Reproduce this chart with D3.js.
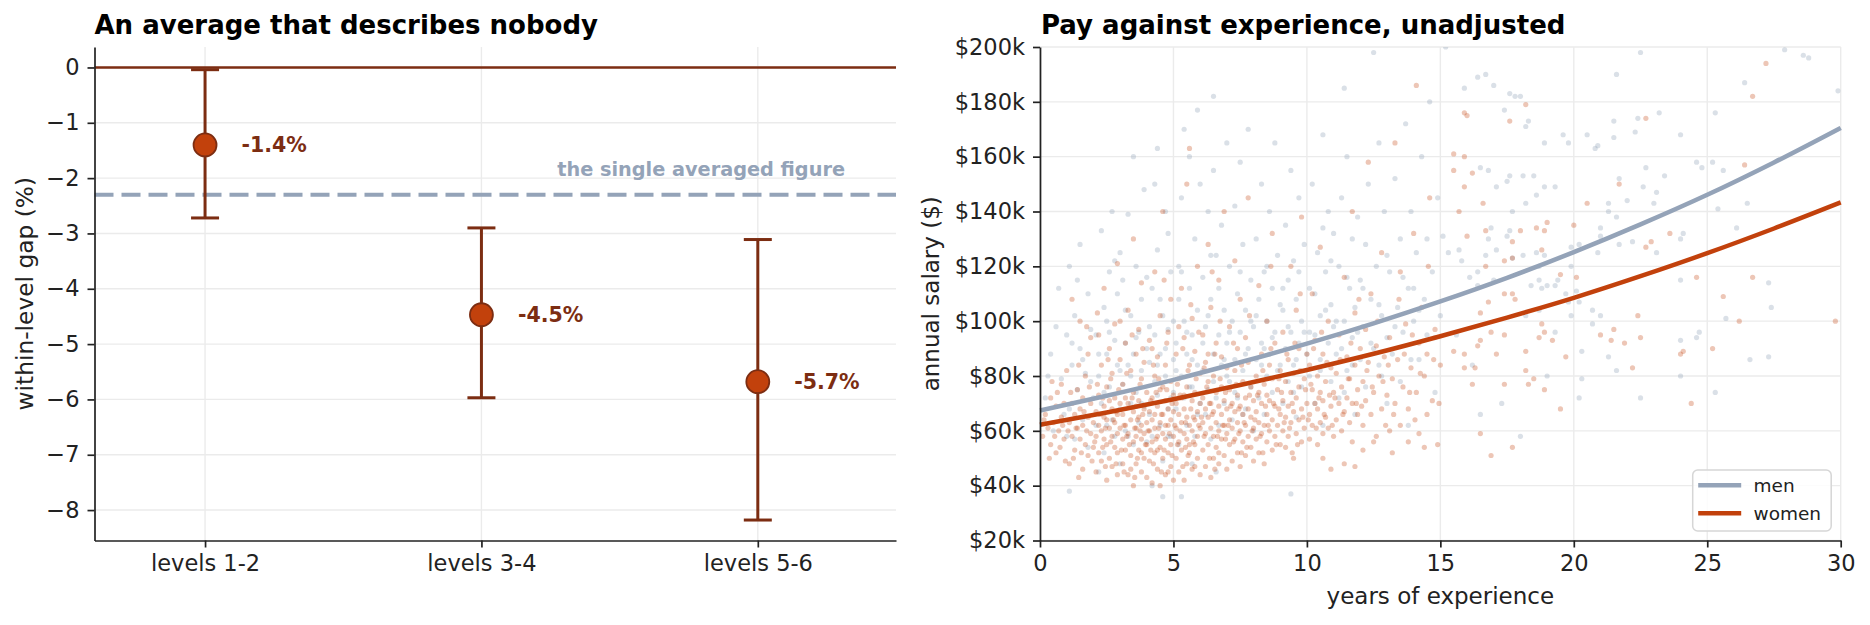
<!DOCTYPE html>
<html>
<head>
<meta charset="utf-8">
<script src="https://cdn.jsdelivr.net/npm/d3@7"></script>
<style>
  body { margin: 0; background: #fff; }
  svg { display: block; font-family: "DejaVu Sans", sans-serif; }
</style>
</head>
<body>
<svg id="chart" width="1870" height="625"></svg>
<script>
// ---- left panel: within-level gap ----
const levels = ["levels 1-2", "levels 3-4", "levels 5-6"];
const gapMid = [-1.4, -4.47, -5.68];
const gapLow = [-2.72, -5.97, -8.18];
const gapHigh = [-0.04, -2.90, -3.11];
const gapText = ["-1.4%", "-4.5%", "-5.7%"];
const averagedGap = -2.3;
const gapTicks = [0, -1, -2, -3, -4, -5, -6, -7, -8];

// ---- right panel: pay vs experience ($k) ----
const expGrid = [0, 2.5, 5, 7.5, 10, 12.5, 15, 17.5, 20, 22.5, 25, 27.5, 30];
const menFit = [67.4, 72.8, 78.6, 85.0, 91.8, 99.2, 107.2, 115.8, 125.2, 135.3, 146.1, 157.9, 170.5];
const womenFit = [62.2, 66.7, 71.5, 76.7, 82.2, 88.1, 94.5, 101.3, 108.5, 116.4, 124.8, 133.8, 143.3];
const salaryTicks = [20, 40, 60, 80, 100, 120, 140, 160, 180, 200];
const expTicks = [0, 5, 10, 15, 20, 25, 30];

const menPts = [
  [0.2,72],[0.4,88],[0.5,60],[0.7,112],[0.8,79],[1.0,95],[1.1,38],
  [1.1,68],[1.1,120],[1.2,84],[1.3,57],[1.3,102],[1.4,75],[1.5,90],[1.5,128],[1.6,64],[1.7,81],[1.8,110],[1.8,54],[1.9,97],[2.0,72],
  [2.1,62],[2.1,95],[2.2,80],[2.3,133],[2.3,70],[2.4,105],[2.4,52],[2.5,88],[2.6,76],[2.6,118],[2.7,64],[2.7,140],[2.8,93],[2.8,58],[2.9,84],[2.9,110],[3.0,68],[3.0,125],[2.2,45],[2.5,100],
  [3.1,77],[3.1,115],[3.2,60],[3.2,92],[3.3,84],[3.3,139],[3.4,70],[3.4,102],[3.5,55],[3.5,88],[3.6,120],[3.6,74],[3.7,96],[3.7,63],[3.8,108],[3.8,82],[3.9,148],[3.9,69],[4.0,90],[4.0,56],[3.5,160],[3.0,48],
  [4.1,85],[4.1,66],[4.2,112],[4.2,58],[4.3,95],[4.3,150],[4.4,73],[4.4,126],[4.5,62],[4.5,88],[4.6,102],[4.6,49],[4.7,80],[4.7,140],[4.8,68],[4.8,97],[4.9,118],[4.9,58],[5.0,86],[5.0,74],[4.4,163],[4.8,132],[4.2,40],[4.6,36],
  [5.1,92],[5.1,68],[5.2,120],[5.2,55],[5.3,80],[5.3,145],[5.4,100],[5.4,72],[5.5,62],[5.5,88],[5.6,112],[5.6,160],[5.7,76],[5.7,95],[5.8,58],[5.8,130],[5.9,84],[5.9,104],[6.0,70],[6.0,150],[5.4,170],[5.9,177],[5.2,108],[5.7,48],[5.3,36],
  [6.1,82],[6.1,116],[6.2,66],[6.2,98],[6.3,140],[6.3,75],[6.4,108],[6.4,57],[6.5,88],[6.5,155],[6.6,72],[6.6,124],[6.7,95],[6.7,62],[6.8,135],[6.8,84],[6.9,104],[6.9,70],[7.0,92],[7.0,165],[6.5,182],[6.6,45],
  [7.1,78],[7.1,120],[7.2,100],[7.2,64],[7.3,142],[7.3,86],[7.4,110],[7.4,72],[7.5,96],[7.5,158],[7.6,82],[7.6,128],[7.7,68],[7.7,104],[7.8,90],[7.8,170],[7.9,115],[7.9,76],[8.0,98],[8.0,60],
  [8.1,86],[8.1,130],[8.2,72],[8.2,108],[8.3,150],[8.3,92],[8.4,66],[8.4,118],[8.5,100],[8.5,80],[8.6,140],[8.6,88],[8.7,112],[8.7,74],[8.8,96],[8.8,165],[8.9,124],[9.0,84],
  [9.1,104],[9.1,70],[9.2,135],[9.2,90],[9.3,78],[9.3,115],[9.4,155],[9.4,96],[9.5,84],[9.5,122],[9.6,65],[9.6,108],[9.7,145],[9.7,92],[9.8,100],[9.8,76],[9.9,128],[10.0,88],[9.4,37],
  [10.1,112],[10.1,80],[10.2,150],[10.3,95],[10.3,70],[10.4,125],[10.5,102],[10.5,86],[10.6,168],[10.6,62],[10.7,118],[10.8,92],[10.8,140],[10.9,78],[10.9,106],[11.0,132],[11.0,98],
  [11.1,88],[11.2,120],[11.2,72],[11.3,145],[11.4,100],[11.5,82],[11.5,160],[11.6,112],[11.7,94],[11.7,130],[11.8,66],[11.8,105],[11.9,138],[12.0,86],[12.0,115],[11.4,185],
  [12.1,98],[12.2,128],[12.2,76],[12.3,150],[12.4,108],[12.5,90],[12.5,198],[12.6,120],[12.7,84],[12.7,165],[12.8,102],[12.9,140],[13.0,94],[13.0,70],
  [13.1,118],[13.2,88],[13.3,152],[13.4,105],[13.5,130],[13.5,78],[13.6,96],[13.7,172],[13.8,112],[13.8,62],[13.9,140],[14.0,100],
  [14.1,125],[14.2,86],[14.3,160],[14.4,108],[14.5,95],[14.6,180],[14.7,118],[14.8,74],[14.9,145],[15.0,102],
  [0.3,80],[0.6,98],[0.9,66],[1.2,92],[1.4,115],[1.6,86],[1.9,78],[1.0,58],
  [2.2,88],[2.4,74],[2.6,96],[2.8,122],[3.0,82],[3.2,104],[3.4,80],[3.6,94],[3.8,70],[4.0,116],[2.5,62],[3.3,58],
  [4.1,98],[4.3,78],[4.5,108],[4.7,90],[4.9,72],[5.1,82],[5.3,118],[5.5,96],[5.7,86],[5.9,66],[4.4,84],[5.0,100],[5.6,76],[4.8,58],
  [6.1,92],[6.3,102],[6.5,78],[6.7,112],[6.9,86],[7.1,96],[7.3,74],[7.5,118],[7.7,88],[7.9,100],[6.4,124],[7.0,80],[7.6,66],
  [8.1,102],[8.3,84],[8.5,120],[8.7,94],[8.9,82],[9.1,112],[9.3,98],[9.5,74],[9.7,118],[9.9,96],[8.4,90],[9.0,106],[9.6,86],
  [10.1,96],[10.3,110],[10.5,82],[10.7,104],[10.9,122],[11.1,100],[11.3,90],[11.5,116],[11.7,84],[11.9,96],[10.6,134],[11.4,74],
  [12.1,112],[12.4,92],[12.7,106],[13.0,124],[13.3,98],[13.6,116],[13.9,86],[14.2,104],[14.5,130],[14.8,94],[12.8,80],[14.0,112],
  [15.2,200],[16.7,190],[16.4,189],[17.0,186],[15.9,185],[17.6,183],[17.8,182],[18.0,182],[17.4,177],[18.3,173],[18.2,171],[18.9,165],[19.6,168],[19.8,165],
  [18.5,153],[18.9,149],[19.3,149],[18.6,146],[18.2,143],[17.7,140],[17.5,151],[17.1,149],[17.6,153],[18.1,153],[16.8,155],[16.5,156],[17.5,131],[17.6,133],
  [16.8,130],[16.9,134],[17.1,126],[17.7,123],[16.7,124],[16.4,118],[17.0,115],[16.4,113],[16.1,116],[15.8,122],[15.3,125],[15.7,126],[15.1,131],[19.9,127],
  [19.9,120],[19.3,113],[19.4,115],[19.0,113],[18.4,113],[18.7,115],[18.8,112],[18.7,104],[18.2,102],[18.7,120],[18.9,124],[18.6,125],[18.1,124],[19.3,96],
  [19.9,102],[19.8,107],[19.7,110],[15.6,95],[16.2,84],[17.3,70],[18.0,58],[16.5,66],[19.0,80],
  [21.6,190],[22.5,198],[27.9,199],[28.6,197],[28.8,196],[26.4,187],[29.9,184],[25.3,176],[23.2,176],[22.4,174],[21.5,173],[22.3,169],[24.0,168],[21.5,167],
  [20.5,168],[20.9,164],[20.8,163],[22.7,156],[24.6,158],[24.8,156],[25.6,155],[25.2,158],[23.4,153],[23.1,147],[22.6,149],[21.7,152],[22.0,144],[21.3,143],
  [21.3,140],[21.6,138],[23.0,143],[26.5,143],[25.4,141],[26.1,134],[24.0,130],[24.1,132],[21.0,134],[21.0,131],[21.7,128],[20.2,128],[20.9,125],[23.1,125],
  [22.2,129],[24.0,115],[27.4,105],[27.3,114],[25.7,101],[24.7,96],[24.0,93],[24.6,94],[26.6,86],[27.3,87],[24.0,80],[25.3,74],[22.5,72],[21.6,82],
  [21.3,87],[20.3,79],[20.2,72],[20.7,99],[21.0,102],[20.7,104],[20.2,107],[20.1,111],[20.3,89]
];

const womenPts = [
  [0.1,58],[0.2,66],[0.3,61],[0.4,72],[0.4,55],[0.5,63],[0.6,69],[0.6,52],[0.7,60],[0.8,77],[0.8,65],[0.9,57],[0.9,70],[1.0,82],
  [1.1,48],[1.1,63],[1.2,70],[1.2,58],[1.2,108],[1.3,66],[1.3,53],[1.4,75],[1.4,61],[1.5,100],[1.5,57],[1.5,68],[1.6,46],[1.6,72],[1.6,62],[1.7,55],[1.7,80],[1.8,65],[1.8,51],[1.8,88],[1.9,59],[1.9,70],[1.9,94],[2.0,63],[2.0,54],
  [2.1,45],[2.1,67],[2.1,58],[2.2,73],[2.2,62],[2.2,52],[2.3,84],[2.3,60],[2.3,49],[2.4,69],[2.4,57],[2.4,112],[2.5,64],[2.5,42],[2.5,76],[2.5,55],[2.6,61],[2.6,90],[2.6,50],[2.7,68],[2.7,58],[2.7,47],[2.7,81],[2.8,63],[2.8,54],[2.8,72],[2.8,99],[2.9,59],[2.9,66],[2.9,44],[2.9,52],[3.0,70],[3.0,61],[3.0,86],[2.4,65],[2.6,71],[2.2,95],[2.9,121],
  [3.1,48],[3.1,57],[3.1,66],[3.1,77],[3.2,53],[3.2,62],[3.2,92],[3.3,44],[3.3,59],[3.3,70],[3.3,104],[3.4,51],[3.4,64],[3.4,82],[3.5,40],[3.5,56],[3.5,67],[3.5,74],[3.5,130],[3.6,48],[3.6,61],[3.6,88],[3.6,58],[3.7,53],[3.7,65],[3.7,71],[3.7,97],[3.8,45],[3.8,57],[3.8,62],[3.8,79],[3.8,114],[3.9,50],[3.9,68],[3.9,59],[3.9,85],[4.0,43],[4.0,55],[4.0,63],[4.0,74],[3.2,72],[3.4,46],[3.6,69],[3.8,52],[3.0,100],
  [4.1,49],[4.1,60],[4.1,67],[4.1,93],[4.2,41],[4.2,56],[4.2,72],[4.2,64],[4.3,52],[4.3,61],[4.3,80],[4.3,118],[4.4,46],[4.4,58],[4.4,69],[4.4,87],[4.5,40],[4.5,54],[4.5,63],[4.5,75],[4.5,102],[4.6,50],[4.6,59],[4.6,66],[4.6,140],[4.7,44],[4.7,57],[4.7,71],[4.7,84],[4.8,52],[4.8,62],[4.8,68],[4.8,96],[4.9,47],[4.9,55],[4.9,64],[4.9,78],[4.9,108],[5.0,42],[5.0,58],[5.0,67],[5.0,73],[4.2,90],[4.4,53],[4.6,76],[4.8,45],[4.3,66],[4.7,62],
  [5.1,50],[5.1,61],[5.1,70],[5.1,88],[5.2,45],[5.2,56],[5.2,66],[5.2,79],[5.3,53],[5.3,63],[5.3,72],[5.3,112],[5.4,42],[5.4,59],[5.4,68],[5.4,94],[5.5,48],[5.5,57],[5.5,65],[5.5,76],[5.5,150],[5.6,52],[5.6,62],[5.6,84],[5.6,163],[5.7,46],[5.7,60],[5.7,71],[5.7,101],[5.8,55],[5.8,64],[5.8,74],[5.8,89],[5.9,50],[5.9,58],[5.9,67],[5.9,120],[6.0,44],[6.0,61],[6.0,70],[6.0,81],[5.2,98],[5.4,73],[5.6,55],[5.8,47],
  [6.1,53],[6.1,63],[6.1,72],[6.1,95],[6.2,47],[6.2,59],[6.2,68],[6.2,85],[6.3,55],[6.3,65],[6.3,78],[6.3,128],[6.4,43],[6.4,61],[6.4,70],[6.4,105],[6.5,50],[6.5,58],[6.5,67],[6.5,80],[6.6,54],[6.6,63],[6.6,74],[6.6,92],[6.7,48],[6.7,60],[6.7,69],[6.7,115],[6.8,57],[6.8,66],[6.8,76],[6.8,87],[6.9,51],[6.9,62],[6.9,71],[6.9,140],[7.0,46],[7.0,59],[7.0,68],[7.0,83],[6.3,88],[6.7,52],
  [7.1,55],[7.1,64],[7.1,75],[7.1,98],[7.2,49],[7.2,61],[7.2,70],[7.3,57],[7.3,67],[7.3,82],[7.3,122],[7.4,52],[7.4,63],[7.4,73],[7.4,90],[7.5,47],[7.5,60],[7.5,69],[7.5,108],[7.6,56],[7.6,66],[7.6,78],[7.7,51],[7.7,62],[7.7,72],[7.7,94],[7.8,58],[7.8,68],[7.8,85],[7.8,145],[7.9,54],[7.9,65],[7.9,76],[8.0,49],[8.0,61],[8.0,71],
  [8.1,57],[8.1,67],[8.1,80],[8.2,52],[8.2,63],[8.2,74],[8.2,113],[8.3,59],[8.3,70],[8.3,88],[8.4,48],[8.4,62],[8.4,77],[8.5,56],[8.5,66],[8.5,73],[8.5,100],[8.6,60],[8.6,71],[8.6,84],[8.7,53],[8.7,64],[8.7,79],[8.7,132],[8.8,58],[8.8,69],[8.8,92],[8.9,62],[8.9,75],[9.0,55],[9.0,66],[9.0,82],
  [9.1,60],[9.1,71],[9.1,96],[9.2,54],[9.2,65],[9.2,78],[9.3,58],[9.3,69],[9.3,86],[9.4,63],[9.4,74],[9.4,120],[9.5,50],[9.5,67],[9.5,81],[9.6,59],[9.6,72],[9.6,104],[9.7,64],[9.7,76],[9.7,90],[9.8,56],[9.8,68],[9.8,138],[9.9,61],[9.9,79],[10.0,70],[10.0,88],
  [10.1,57],[10.1,66],[10.1,84],[10.2,62],[10.2,75],[10.2,110],[10.3,70],[10.3,93],[10.4,55],[10.4,68],[10.4,80],[10.5,63],[10.5,74],[10.5,127],[10.6,59],[10.6,71],[10.6,88],[10.7,65],[10.7,78],[10.8,61],[10.8,100],[10.9,69],[10.9,83],[11.0,58],[11.0,74],
  [11.1,64],[11.1,81],[11.2,70],[11.2,95],[11.3,60],[11.3,76],[11.4,67],[11.4,116],[11.5,72],[11.5,87],[11.6,63],[11.6,79],[11.7,56],[11.7,70],[11.7,140],[11.8,84],[11.8,103],[11.9,66],[11.9,75],[12.0,90],
  [12.1,62],[12.1,78],[12.2,71],[12.2,97],[12.3,85],[12.3,158],[12.4,66],[12.4,110],[12.5,74],[12.6,58],[12.6,91],[12.7,80],[12.8,68],[12.8,125],[12.9,87],[13.0,73],
  [13.1,60],[13.1,94],[13.2,79],[13.3,70],[13.3,165],[13.4,86],[13.5,62],[13.5,118],[13.6,76],[13.7,99],[13.8,68],[13.9,83],[14.0,132],
  [14.1,74],[14.2,59],[14.2,92],[14.3,105],[14.4,80],[14.5,66],[14.5,88],[14.6,145],[14.7,71],[14.8,97],[14.9,55],[15.0,84],
  [10.9,46],[11.4,48],[11.8,47],[12.1,53],[12.5,56],[13.2,52],[13.8,56],[14.4,54],[10.6,50],
  [0.15,64],[0.35,50],[0.45,78],[0.55,58],[0.65,74],[0.75,54],[0.85,62],[0.95,49],
  [1.05,60],[1.15,74],[1.25,50],[1.35,61],[1.45,84],[1.55,52],[1.65,67],[1.75,60],[1.85,76],[1.95,49],[1.45,43],[1.75,98],
  [2.05,56],[2.15,77],[2.25,66],[2.35,54],[2.45,61],[2.55,86],[2.65,56],[2.75,64],[2.85,48],[2.95,75],[2.15,103],[2.45,47],[2.65,79],[2.85,67],[2.35,72],
  [3.05,53],[3.15,62],[3.25,81],[3.35,55],[3.45,72],[3.55,61],[3.65,50],[3.75,77],[3.85,66],[3.95,55],[3.15,45],[3.45,95],[3.65,64],[3.85,90],[3.25,58],[3.55,43],[3.75,60],
  [4.05,60],[4.15,71],[4.25,48],[4.35,57],[4.45,79],[4.55,66],[4.65,53],[4.75,75],[4.85,59],[4.95,70],[4.15,53],[4.35,74],[4.55,45],[4.75,92],[4.95,51],[4.25,84],[4.45,61],[4.65,115],
  [5.05,62],[5.15,55],[5.25,73],[5.35,47],[5.45,63],[5.55,82],[5.65,68],[5.75,56],[5.85,79],[5.95,62],[5.15,77],[5.35,90],[5.55,51],[5.75,65],[5.95,96],[5.25,60],[5.45,54],[5.65,106],
  [6.05,65],[6.15,58],[6.25,76],[6.35,50],[6.45,66],[6.55,88],[6.65,58],[6.75,79],[6.85,62],[6.95,74],[6.15,83],[6.35,70],[6.55,46],[6.75,100],[6.95,57],[6.45,118],
  [7.05,62],[7.15,69],[7.25,56],[7.35,77],[7.45,59],[7.55,84],[7.65,63],[7.75,54],[7.85,73],[7.95,60],[7.25,92],[7.55,52],[7.85,102],[7.45,68],
  [8.05,64],[8.15,73],[8.25,58],[8.35,82],[8.45,69],[8.55,62],[8.65,90],[8.75,70],[8.85,55],[8.95,79],[8.35,52],[8.65,120],[8.95,68],
  [9.05,74],[9.15,63],[9.25,88],[9.35,61],[9.45,70],[9.55,92],[9.65,55],[9.75,82],[9.85,65],[9.95,75],[9.45,52],[9.75,110],
  [10.05,64],[10.15,77],[10.25,90],[10.35,61],[10.45,72],[10.55,96],[10.65,66],[10.75,85],[10.85,73],[10.95,62],
  [11.05,72],[11.25,86],[11.35,66],[11.55,79],[11.65,92],[11.85,70],[11.95,108],
  [12.05,69],[12.25,82],[12.45,76],[12.65,100],[12.85,78],[12.95,62],
  [13.05,84],[13.25,66],[13.45,108],[13.65,88],[13.85,74],[13.95,95],
  [14.05,64],[14.25,81],[14.55,120],[14.75,86],[14.95,70],
  [14.1,186],[15.9,176],[16.0,175],[17.6,173],[18.2,179],[15.5,161],[15.9,160],[15.9,149],[16.2,154],[15.5,155],[15.7,140],[16.6,143],[16.7,133],[17.7,129],
  [18.0,133],[18.6,134],[18.9,133],[19.0,136],[16.0,131],[18.8,126],[17.4,122],[17.7,123],[16.7,120],[17.8,108],[17.7,110],[17.4,110],[16.8,107],[16.5,103],
  [16.9,96],[17.4,95],[16.5,93],[17.1,88],[16.4,91],[15.9,88],[15.9,83],[16.3,83],[16.2,77],[16.5,59],[16.9,51],[17.7,54],[17.4,77],[18.3,77],
  [18.5,79],[18.9,75],[18.2,89],[18.8,99],[18.9,96],[19.2,93],[18.7,94],[18.2,82],[19.5,68],[15.5,89],[19.7,87],[20.1,116],[19.5,117],[20.5,143],
  [20.0,135],[21.7,150],
  [27.2,194],[26.7,182],[22.7,174],[26.4,157],[29.8,100],[26.7,116],[25.6,109],[25.2,90],[24.4,70],[24.1,89],[24.0,88],[24.6,116],[26.2,100],[22.2,83],
  [22.5,94],[21.9,92],[21.4,93],[21.0,95],[21.5,97],[23.6,132],[22.9,129],[22.7,127],[22.4,102]
];

const ink = "#222222";
const brown = "#7c2d12";
const rust = "#c2410c";
const slate = "#94a3b8";
const gridColor = "#ebebeb";
const tickFont = 22.5;

const svg = d3.select("#chart");
svg.append("rect").attr("width", 1870).attr("height", 625).attr("fill", "#fff");

function styleAxis(g) {
  g.selectAll("text").attr("font-size", tickFont).attr("fill", ink).attr("font-family", "DejaVu Sans");
  g.selectAll("line").attr("stroke", ink).attr("stroke-width", 1.7);
  g.select(".domain").attr("stroke", ink).attr("stroke-width", 1.7);
}

// ================= left panel =================
const plotTop = 47, plotBottom = 540.5;
const xL = d3.scaleLinear().domain([-0.4, 2.5]).range([94.5, 896]);
const yL = d3.scaleLinear().domain([0.37, -8.55]).range([plotTop, plotBottom]);
const leftG = svg.append("g");

// grid
leftG.append("g").selectAll("line").data(gapTicks).join("line")
  .attr("x1", xL.range()[0]).attr("x2", xL.range()[1])
  .attr("y1", d => yL(d)).attr("y2", d => yL(d))
  .attr("stroke", gridColor).attr("stroke-width", 1.4);
leftG.append("g").selectAll("line").data(levels).join("line")
  .attr("x1", (d, i) => xL(i)).attr("x2", (d, i) => xL(i))
  .attr("y1", plotTop).attr("y2", plotBottom)
  .attr("stroke", gridColor).attr("stroke-width", 1.4);

// zero reference and the averaged figure
leftG.append("line")
  .attr("x1", xL.range()[0]).attr("x2", xL.range()[1])
  .attr("y1", yL(0)).attr("y2", yL(0))
  .attr("stroke", brown).attr("stroke-width", 2.6);
leftG.append("line")
  .attr("x1", xL.range()[0]).attr("x2", xL.range()[1])
  .attr("y1", yL(averagedGap)).attr("y2", yL(averagedGap))
  .attr("stroke", slate).attr("stroke-width", 4).attr("stroke-dasharray", "19,8");
leftG.append("text")
  .attr("x", 845).attr("y", yL(averagedGap) - 19)
  .attr("text-anchor", "end").attr("font-weight", "bold").attr("font-size", 19.3)
  .attr("fill", slate).text("the single averaged figure");

// error bars
const bars = leftG.append("g").selectAll("g").data(levels).join("g");
bars.append("line")
  .attr("x1", (d, i) => xL(i)).attr("x2", (d, i) => xL(i))
  .attr("y1", (d, i) => yL(gapHigh[i])).attr("y2", (d, i) => yL(gapLow[i]))
  .attr("stroke", brown).attr("stroke-width", 3);
[gapHigh, gapLow].forEach(ends => {
  bars.append("line")
    .attr("x1", (d, i) => xL(i) - 14).attr("x2", (d, i) => xL(i) + 14)
    .attr("y1", (d, i) => yL(ends[i])).attr("y2", (d, i) => yL(ends[i]))
    .attr("stroke", brown).attr("stroke-width", 3);
});
bars.append("circle")
  .attr("cx", (d, i) => xL(i)).attr("cy", (d, i) => yL(gapMid[i]))
  .attr("r", 11.5).attr("fill", rust).attr("stroke", brown).attr("stroke-width", 1.8);
bars.append("text")
  .attr("x", (d, i) => xL(i) + 36.5).attr("y", (d, i) => yL(gapMid[i]))
  .attr("dy", "0.36em").attr("font-weight", "bold").attr("font-size", 20.5)
  .attr("fill", brown).text((d, i) => gapText[i]);

// axes
leftG.append("g").attr("transform", `translate(${xL.range()[0]},0)`)
  .call(d3.axisLeft(yL).tickValues(gapTicks).tickSize(7).tickPadding(8).tickSizeOuter(0))
  .call(styleAxis);
leftG.append("g").attr("transform", `translate(0,${plotBottom})`)
  .call(d3.axisBottom(xL).tickValues([0, 1, 2]).tickFormat(i => levels[i]).tickSize(7).tickPadding(8).tickSizeOuter(0))
  .call(styleAxis);
leftG.append("text")
  .attr("transform", `translate(33,${(plotTop + plotBottom) / 2}) rotate(-90)`)
  .attr("text-anchor", "middle").attr("font-size", 23.3).attr("fill", ink)
  .text("within-level gap (%)");
leftG.append("text")
  .attr("x", 94.5).attr("y", 34)
  .attr("font-weight", "bold").attr("font-size", 26).attr("fill", "#000")
  .text("An average that describes nobody");

// ================= right panel =================
const xR = d3.scaleLinear().domain([0, 30]).range([1040, 1840.7]);
const yR = d3.scaleLinear().domain([20, 200]).range([plotBottom, plotTop]);
const rightG = svg.append("g");

rightG.append("defs").append("clipPath").attr("id", "plotR")
  .append("rect").attr("x", xR(0)).attr("y", plotTop)
  .attr("width", xR(30) - xR(0)).attr("height", plotBottom - plotTop);

rightG.append("g").selectAll("line").data(salaryTicks).join("line")
  .attr("x1", xR(0)).attr("x2", xR(30))
  .attr("y1", d => yR(d)).attr("y2", d => yR(d))
  .attr("stroke", gridColor).attr("stroke-width", 1.4);
rightG.append("g").selectAll("line").data(expTicks).join("line")
  .attr("x1", d => xR(d)).attr("x2", d => xR(d))
  .attr("y1", plotTop).attr("y2", plotBottom)
  .attr("stroke", gridColor).attr("stroke-width", 1.4);

const dots = rightG.append("g").attr("clip-path", "url(#plotR)");
dots.append("g").selectAll("circle").data(menPts).join("circle")
  .attr("cx", d => xR(d[0])).attr("cy", d => yR(d[1])).attr("r", 2.6)
  .attr("fill", slate).attr("fill-opacity", 0.34);
dots.append("g").selectAll("circle").data(womenPts).join("circle")
  .attr("cx", d => xR(d[0])).attr("cy", d => yR(d[1])).attr("r", 2.6)
  .attr("fill", rust).attr("fill-opacity", 0.3);

const fitLine = vals => d3.line()
  .x((d, i) => xR(expGrid[i])).y(d => yR(d))
  .curve(d3.curveMonotoneX)(vals);
rightG.append("path").attr("d", fitLine(menFit))
  .attr("fill", "none").attr("stroke", slate).attr("stroke-width", 4.5);
rightG.append("path").attr("d", fitLine(womenFit))
  .attr("fill", "none").attr("stroke", rust).attr("stroke-width", 4.5);

rightG.append("g").attr("transform", `translate(${xR(0)},0)`)
  .call(d3.axisLeft(yR).tickValues(salaryTicks).tickFormat(d => `$${d}k`).tickSize(7).tickPadding(8).tickSizeOuter(0))
  .call(styleAxis);
rightG.append("g").attr("transform", `translate(0,${plotBottom})`)
  .call(d3.axisBottom(xR).tickValues(expTicks).tickSize(7).tickPadding(8).tickSizeOuter(0))
  .call(styleAxis);

rightG.append("text")
  .attr("transform", `translate(939,${(plotTop + plotBottom) / 2}) rotate(-90)`)
  .attr("text-anchor", "middle").attr("font-size", 23).attr("fill", ink)
  .text("annual salary ($)");
rightG.append("text")
  .attr("x", (xR(0) + xR(30)) / 2).attr("y", 604)
  .attr("text-anchor", "middle").attr("font-size", 23).attr("fill", ink)
  .text("years of experience");
rightG.append("text")
  .attr("x", 1041).attr("y", 34)
  .attr("font-weight", "bold").attr("font-size", 26).attr("fill", "#000")
  .text("Pay against experience, unadjusted");

// legend
const legendItems = [{ name: "men", color: slate }, { name: "women", color: rust }];
const lg = rightG.append("g").attr("transform", "translate(1692.7,470)");
lg.append("rect").attr("width", 138.5).attr("height", 61).attr("rx", 5)
  .attr("fill", "#fff").attr("fill-opacity", 0.85)
  .attr("stroke", "#d6d6d6").attr("stroke-width", 1.5);
const li = lg.selectAll("g.item").data(legendItems).join("g").attr("class", "item")
  .attr("transform", (d, i) => `translate(0,${15.3 + i * 28})`);
li.append("line").attr("x1", 5.5).attr("x2", 48.5)
  .attr("stroke", d => d.color).attr("stroke-width", 4.5);
li.append("text").attr("x", 60.8).attr("dy", "0.35em")
  .attr("font-size", 18.5).attr("fill", ink).text(d => d.name);
</script>
</body>
</html>
